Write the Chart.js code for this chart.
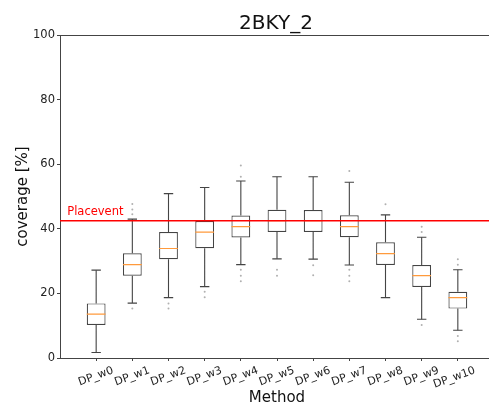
<!DOCTYPE html>
<html>
<head>
<meta charset="utf-8">
<script src="https://cdn.jsdelivr.net/npm/chart.js@4/dist/chart.umd.min.js"></script>
<style>
  html, body { margin: 0; padding: 0; background: #fff; overflow: hidden; }
  #wrap { width: 498px; height: 409px; }
</style>
</head>
<body>
<div id="wrap"><canvas id="c"></canvas></div>
<script>
// Coverage distributions per weighting method (box-plot summary values, %)
const methods     = ['DP_w0', 'DP_w1', 'DP_w2', 'DP_w3', 'DP_w4', 'DP_w5', 'DP_w6', 'DP_w7', 'DP_w8', 'DP_w9', 'DP_w10'];
const whiskerLow  = [1.7, 17.0, 18.7, 22.1, 28.9, 30.7, 30.6, 28.8, 18.7, 12.0, 8.6];
const q1          = [10.2, 25.5, 30.6, 34.0, 37.3, 39.0, 39.0, 37.4, 28.8, 22.0, 15.3];
const median      = [13.6, 28.9, 33.9, 39.0, 40.7, 42.5, 42.5, 40.7, 32.3, 25.5, 18.7];
const q3          = [16.9, 32.4, 39.0, 42.4, 44.1, 45.9, 45.8, 44.2, 35.8, 28.8, 20.5];
const whiskerHigh = [27.2, 43.0, 50.9, 52.8, 54.8, 56.1, 56.1, 54.4, 44.3, 37.4, 27.3];
const fliers = [
  [],
  [15.3, 44.5, 46.0, 47.7],
  [16.9, 15.3],
  [20.5, 18.8],
  [27.3, 25.5, 23.8, 56.1, 59.6],
  [27.3, 25.5],
  [28.7, 25.6],
  [27.3, 25.5, 23.8, 57.9],
  [47.6],
  [40.6, 39.0, 10.2],
  [30.6, 28.9, 6.8, 5.2]
];
const placevent = 42.5;
const yTicks = [0, 20, 40, 60, 80, 100];

const FONT = 'DejaVu Sans';
Chart.defaults.font.family = FONT;
Chart.defaults.color = '#222';

const pos = methods.map((_, i) => i + 1);
const BOX_HALF = 0.26;
const CAP_HALF = 0.13;
const EDGE = '#444';

// whisker stems, caps and medians as short segments separated by null gaps
const whiskerPts = [];
const capPts = [];
const medianPts = [];
const flierPts = [];
pos.forEach((p, i) => {
  whiskerPts.push({x: p, y: whiskerLow[i]}, {x: p, y: q1[i]}, {x: p, y: null});
  whiskerPts.push({x: p, y: q3[i]}, {x: p, y: whiskerHigh[i]}, {x: p, y: null});
  capPts.push({x: p - CAP_HALF, y: whiskerLow[i]}, {x: p + CAP_HALF, y: whiskerLow[i]}, {x: p, y: null});
  capPts.push({x: p - CAP_HALF, y: whiskerHigh[i]}, {x: p + CAP_HALF, y: whiskerHigh[i]}, {x: p, y: null});
  medianPts.push({x: p - BOX_HALF, y: median[i]}, {x: p + BOX_HALF, y: median[i]}, {x: p, y: null});
  fliers[i].forEach(v => flierPts.push({x: p, y: v}));
});

// title centred over the plot area, top frame line and the reference-line label
const decor = {
  id: 'decor',
  afterDraw(chart) {
    const {ctx, chartArea: a, scales: {x, y}} = chart;
    ctx.save();
    ctx.strokeStyle = EDGE;
    ctx.lineWidth = 1;
    ctx.beginPath();
    ctx.moveTo(a.left, Math.round(a.top) + 0.5);
    ctx.lineTo(a.right, Math.round(a.top) + 0.5);
    ctx.stroke();
    ctx.fillStyle = '#111';
    ctx.font = '20px ' + FONT;
    ctx.textAlign = 'center';
    ctx.textBaseline = 'alphabetic';
    ctx.fillText('2BKY_2', (a.left + a.right) / 2 - 1, 29);
    ctx.fillStyle = '#ff0000';
    ctx.font = '11.5px ' + FONT;
    ctx.textAlign = 'left';
    ctx.fillText('Placevent', x.getPixelForValue(0.2), y.getPixelForValue(placevent + 1.9));
    ctx.restore();
  }
};

new Chart(document.getElementById('c'), {
  type: 'bar',
  data: {
    datasets: [
      {
        type: 'line', data: [{x: 0, y: placevent}, {x: 12, y: placevent}],
        borderColor: '#ff0000', borderWidth: 1.5, pointRadius: 0, order: 0
      },
      {
        type: 'line', data: medianPts, borderColor: '#ff9a3c', borderWidth: 1.2,
        pointRadius: 0, spanGaps: false, order: 1
      },
      {
        type: 'bar', data: pos.map((p, i) => ({x: p, y: [q1[i], q3[i]]})),
        backgroundColor: '#ffffff', borderColor: EDGE, borderWidth: 1.2,
        borderSkipped: false, categoryPercentage: 1, barPercentage: 2 * BOX_HALF, order: 2
      },
      {
        type: 'line', data: whiskerPts, borderColor: EDGE, borderWidth: 1.1,
        pointRadius: 0, spanGaps: false, order: 3
      },
      {
        type: 'line', data: capPts, borderColor: EDGE, borderWidth: 1.1,
        pointRadius: 0, spanGaps: false, order: 3
      },
      {
        type: 'scatter', data: flierPts, backgroundColor: '#b0b0b0', borderWidth: 0,
        pointRadius: 1, order: 4
      }
    ]
  },
  options: {
    responsive: true,
    maintainAspectRatio: false,
    animation: false,
    layout: {padding: {top: 35, right: 2, left: 0, bottom: 0}},
    plugins: {legend: {display: false}, tooltip: {enabled: false}},
    scales: {
      x: {
        type: 'linear', min: 0, max: 12, offset: false,
        afterBuildTicks: s => { s.ticks = pos.map(v => ({value: v})); },
        afterFit: s => { s.height = 51; },
        ticks: {
          callback: v => methods[v - 1], autoSkip: false,
          minRotation: 20, maxRotation: 20, padding: 3, labelOffset: 17,
          font: {size: 11}, color: '#222'
        },
        grid: {display: true, drawOnChartArea: false, offset: false, tickLength: 3, color: EDGE},
        border: {display: true, color: EDGE, width: 1},
        title: {display: true, text: 'Method', font: {size: 15}, color: '#111', padding: {top: 0, bottom: 2}}
      },
      y: {
        min: 0, max: 100,
        afterBuildTicks: s => { s.ticks = yTicks.map(v => ({value: v})); },
        afterFit: s => { s.width = 60; },
        ticks: {padding: 2, font: {size: 11.5}, color: '#222'},
        grid: {display: true, drawOnChartArea: false, tickLength: 3, color: EDGE},
        border: {display: true, color: EDGE, width: 1},
        title: {display: true, text: 'coverage [%]', font: {size: 15}, color: '#111', padding: {top: 14, bottom: 4}}
      }
    }
  },
  plugins: [decor]
});
</script>
</body>
</html>
